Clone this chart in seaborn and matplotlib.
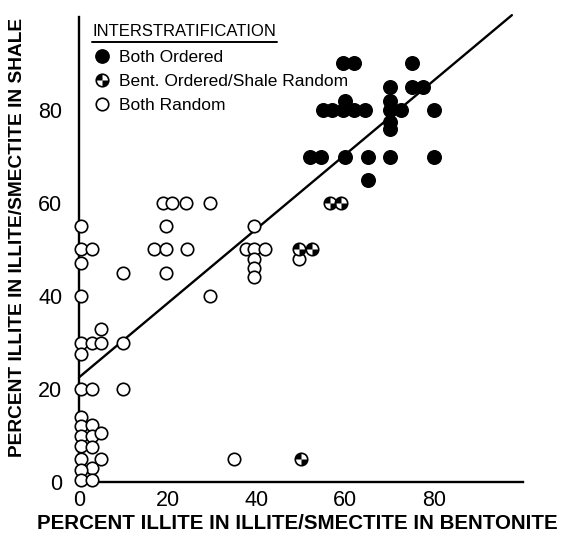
import numpy as np
import matplotlib
matplotlib.use("Agg")
import matplotlib.pyplot as plt
import seaborn as sns
from matplotlib.path import Path
from matplotlib.lines import Line2D
from matplotlib.legend_handler import HandlerTuple

# ---------------- data ----------------
ordered_x = [59.5, 62, 75, 70, 75, 77.5, 60, 70,
             55, 57, 59.5, 62, 64.5, 70, 72.5, 80,
             70, 70, 52, 54.5, 60, 65, 70, 80, 65]
ordered_y = [90, 90, 90, 85, 85, 85, 82, 82,
             80, 80, 80, 80, 80, 80, 80, 80,
             77.5, 76, 70, 70, 70, 70, 70, 70, 65]

mixed_x = [56.5, 59, 49.5, 52.5, 50]
mixed_y = [60, 60, 50, 50, 5]

random_x = [19, 21, 24, 29.5, 19.5, 17, 19.5, 24.3, 19.5, 29.5,
            39.5, 37.5, 39.5, 42, 39.5, 39.5, 39.5, 49.5, 35,
            10, 10, 10,
            0.5, 0.5, 3, 0.5, 0.5, 5, 0.5, 3, 5, 0.5,
            0.5, 3, 0.5, 0.5, 3, 0.5, 3, 5, 0.5, 3, 0.5, 5, 3, 0.5, 0.5, 3]
random_y = [60, 60, 60, 60, 55, 50, 50, 50, 45, 40,
            55, 50, 50, 50, 48, 46, 44, 48, 5,
            45, 30, 20,
            55, 50, 50, 47, 40, 33, 30, 30, 30, 27.5,
            20, 20, 14, 12, 12.3, 10, 10, 10.5, 7.7, 7.5, 5, 5, 3, 2.5, 0.5, 0.5]

line_x = [0, 97.5]
line_y = [22.5, 100.4]

xticks = [0, 20, 40, 60, 80, 100]
xticklabels = ["0", "20", "40", "60", "80", ""]
yticks = [0, 20, 40, 60, 80, 100]
yticklabels = ["0", "20", "40", "60", "80", ""]

legend_title = "INTERSTRATIFICATION"
legend_labels = ["Both Ordered", "Bent. Ordered/Shale Random", "Both Random"]
xlabel = "PERCENT ILLITE IN ILLITE/SMECTITE IN BENTONITE"
ylabel = "PERCENT ILLITE IN ILLITE/SMECTITE IN SHALE"

# ---------------- style ----------------
sns.set_theme(style="white")
plt.rcParams["font.family"] = ["Liberation Sans", "DejaVu Sans"]

W, H = 568, 536
fig = plt.figure(figsize=(W / 100, H / 100), dpi=100)
ax = fig.add_axes([79 / W, 1 - 482 / H, 444 / W, 465 / H])

MS = 80
LW = 1.2

# regression line
sns.lineplot(x=line_x, y=line_y, ax=ax, color="black", linewidth=1.7,
             estimator=None, sort=False)
for l in ax.lines:
    l.set_clip_on(False)

# open circles
sns.scatterplot(x=random_x, y=random_y, ax=ax, s=MS, facecolor="white",
                edgecolor="black", linewidth=LW, zorder=3, clip_on=False)
# filled circles
sns.scatterplot(x=ordered_x, y=ordered_y, ax=ax, s=MS + 12, color="black",
                edgecolor="black", linewidth=LW, zorder=4, clip_on=False)
# half markers
quad = Path.make_compound_path(Path.wedge(90, 180), Path.wedge(270, 360))
sns.scatterplot(x=mixed_x, y=mixed_y, ax=ax, s=MS, facecolor="white",
                edgecolor="black", linewidth=LW, zorder=5, clip_on=False)
ax.scatter(mixed_x, mixed_y, s=MS, marker=quad, color="black",
           linewidth=0, zorder=6, clip_on=False)

ax.set_xlim(0, 100)
ax.set_ylim(0, 100)
for sp in ["top", "right"]:
    ax.spines[sp].set_visible(False)
for sp in ["left", "bottom"]:
    ax.spines[sp].set_linewidth(1.7)
    ax.spines[sp].set_color("black")

ax.set_xticks(xticks)
ax.set_xticklabels(xticklabels)
ax.set_yticks(yticks)
ax.set_yticklabels(yticklabels)
ax.tick_params(axis="x", direction="in", length=9.5, width=1.5, pad=6,
               labelsize=15.5, colors="black")
ax.tick_params(axis="y", direction="out", length=9, width=1.5, pad=3,
               labelsize=15.5, colors="black")

ax.set_xlabel(xlabel, fontsize=14.8, fontweight="bold", labelpad=2, color="black")
ax.set_ylabel(ylabel, fontsize=13.8, fontweight="bold", labelpad=9, color="black")
ax.xaxis.label.set_x((297 - 79) / 444)
ax.yaxis.label.set_y((482 - 237) / 465)

# legend
h_ord = Line2D([], [], linestyle="none", marker="o", markersize=9.6,
               markerfacecolor="black", markeredgecolor="black")
h_mix_c = Line2D([], [], linestyle="none", marker="o", markersize=9,
                 markerfacecolor="white", markeredgecolor="black", markeredgewidth=LW)
h_mix_q = Line2D([], [], linestyle="none", marker=quad, markersize=9,
                 markerfacecolor="black", markeredgewidth=0)
h_rand = Line2D([], [], linestyle="none", marker="o", markersize=9,
                markerfacecolor="white", markeredgecolor="black", markeredgewidth=LW)
leg = ax.legend([h_ord, (h_mix_c, h_mix_q), h_rand], legend_labels,
                handler_map={tuple: HandlerTuple(ndivide=1, pad=0)},
                loc="upper left",
                bbox_to_anchor=(93 / W, 1 - 50 / H), bbox_transform=fig.transFigure,
                frameon=False, fontsize=12.5,
                handlelength=1.0, handletextpad=0.5, labelspacing=0.5,
                borderpad=0, borderaxespad=0)
for t in leg.get_texts():
    t.set_color("black")
fig.text(92 / W, 1 - 31 / H, legend_title, fontsize=12, color="black",
         ha="left", va="center")
fig.add_artist(Line2D([92 / W, 277 / W], [1 - 42 / H, 1 - 42 / H],
                      transform=fig.transFigure, color="black", linewidth=1.4))

fig.savefig("out.png", dpi=100)
